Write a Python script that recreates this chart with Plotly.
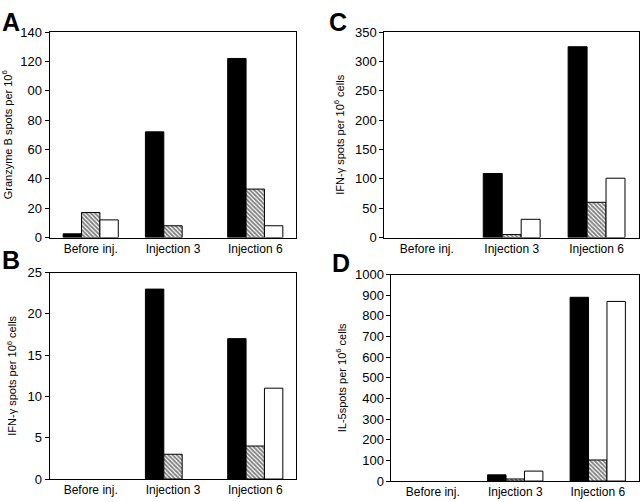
"""
ELISPOT responses over the injection course - four panels (A-D).
"""

import plotly.graph_objects as go
from plotly.subplots import make_subplots

categories = ["Before inj.", "Injection 3", "Injection 6"]

# panel A - Granzyme B
granzyme_black = [2.5, 72, 122]
granzyme_hatched = [17, 8, 33]
granzyme_white = [12, 0, 8]

# panel B - IFN-gamma
ifn_b_black = [0, 23, 17]
ifn_b_hatched = [0, 3, 4]
ifn_b_white = [0, 0, 11]

# panel C - IFN-gamma
ifn_c_black = [0, 109, 325]
ifn_c_hatched = [0, 5, 60]
ifn_c_white = [0, 31, 101]

# panel D - IL-5
il5_black = [0, 30, 890]
il5_hatched = [0, 10, 102]
il5_white = [0, 48, 870]

y_ticks_a = [0, 20, 40, 60, 80, 100, 120, 140]
y_ticktext_a = ["0", "20", "40", "60", "80", "00", "120", "140"]

W, H = 640, 502
FONT = "Liberation Sans, Arial, sans-serif"

# the page renders the paper a little smaller than the window; these undo it
SCALE_X, SCALE_Y, OFFSET_Y = 0.987, 0.968, 7

fig = make_subplots(rows=2, cols=2)

panels = [
    (1, 1, granzyme_black, granzyme_hatched, granzyme_white),
    (2, 1, ifn_b_black, ifn_b_hatched, ifn_b_white),
    (1, 2, ifn_c_black, ifn_c_hatched, ifn_c_white),
    (2, 2, il5_black, il5_hatched, il5_white),
]


def outline(vals):
    # empty bars get no outline so they don't thicken the axis line
    return [1 if v else 0 for v in vals]


for row, col, black, hatched, white in panels:
    fig.add_trace(
        go.Bar(x=categories, y=black,
               marker=dict(color="black", line=dict(color="black", width=outline(black)))),
        row=row, col=col,
    )
    fig.add_trace(
        go.Bar(
            x=categories, y=hatched,
            marker=dict(
                color="white",
                line=dict(color="black", width=outline(hatched)),
                pattern=dict(shape="\\", fgcolor="black", bgcolor="white", size=3, solidity=0.6),
            ),
        ),
        row=row, col=col,
    )
    fig.add_trace(
        go.Bar(x=categories, y=white,
               marker=dict(color="white", line=dict(color="black", width=outline(white)))),
        row=row, col=col,
    )


def fx(x):
    return x / SCALE_X / W


def fy(y):
    return 1 - (y - OFFSET_Y) / SCALE_Y / H


def px_x(a, b):
    return [fx(a), min(fx(b), 1)]


def px_y(top, bottom):
    return [fy(bottom), min(fy(top), 1)]


axis_common = dict(
    showline=True, linecolor="black", linewidth=1, mirror=True,
    showgrid=False, zeroline=False,
    tickfont=dict(family=FONT, size=13, color="black"),
)

fig.update_xaxes(**axis_common, ticks="")
fig.update_xaxes(tickfont=dict(family=FONT, size=12, color="black"))
fig.update_yaxes(**axis_common, ticks="outside", ticklen=4, tickcolor="black")

title_font = dict(family=FONT, size=11, color="black")
fig.update_layout(
    xaxis=dict(domain=px_x(49, 293)),
    yaxis=dict(domain=px_y(32, 237), range=[0, 140], tickvals=y_ticks_a, ticktext=y_ticktext_a,
               title=dict(text="Granzyme B spots per 10<sup>6</sup>", font=title_font, standoff=6)),
    xaxis2=dict(domain=px_x(380, 635)),
    yaxis2=dict(domain=px_y(32, 237), range=[0, 350], dtick=50,
                title=dict(text="IFN-γ spots per 10<sup>6</sup> cells", font=title_font, standoff=8)),
    xaxis3=dict(domain=px_x(49, 293)),
    yaxis3=dict(domain=px_y(272, 478), range=[0, 25], dtick=5,
                title=dict(text="IFN-γ spots per 10<sup>6</sup> cells", font=title_font, standoff=8)),
    xaxis4=dict(domain=px_x(387, 636)),
    yaxis4=dict(domain=px_y(274, 480), range=[0, 1000], dtick=100,
                title=dict(text="IL-5spots per 10<sup>6</sup> cells", font=title_font, standoff=6)),
)

# top letters hang from the top edge, bottom ones sit at their cap centre
letters = [("A", 1, None), ("B", 1, 259), ("C", 324, None), ("D", 327, 262)]
for text, x, y in letters:
    fig.add_annotation(
        text=f"<b>{text}</b>", xref="paper", yref="paper",
        x=fx(x), y=1 if y is None else fy(y),
        xanchor="left", yanchor="top" if y is None else "middle",
        borderpad=0, showarrow=False, font=dict(family=FONT, size=25, color="black"),
    )

fig.update_layout(
    margin=dict(l=0, r=0, t=0, b=0),
    barmode="group", bargap=0.33, bargroupgap=0,
    showlegend=False,
    plot_bgcolor="white", paper_bgcolor="white",
    font=dict(family=FONT, color="black"),
)

fig.write_html(
    "out.html",
    config={"displayModeBar": False},
    default_width="100vw",
    default_height="100vh",
    post_script="document.body.style.margin='0';document.body.style.overflow='hidden';",
)
